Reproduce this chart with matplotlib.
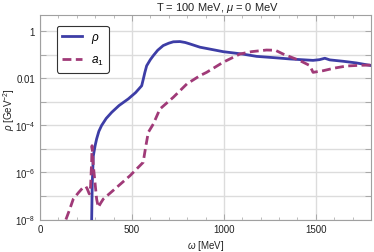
import numpy as np
import matplotlib
matplotlib.use("Agg")
import matplotlib.pyplot as plt
from matplotlib.ticker import FixedLocator, FuncFormatter

plt.rcParams['font.family'] = ['Liberation Sans', 'DejaVu Sans']
plt.rcParams['mathtext.fontset'] = 'custom'
plt.rcParams['mathtext.it'] = 'Liberation Sans:italic'
plt.rcParams['mathtext.rm'] = 'Liberation Sans'

# rho spectral function (omega in MeV, log10 rho)
rho_w = [281, 284, 290, 300, 308, 320, 335, 360, 390, 430, 480, 520, 553, 562, 570, 580,
         600, 616, 640, 670, 700, 725, 761, 790, 815, 870, 950, 996, 1100, 1178, 1280,
         1359, 1420, 1485, 1520, 1549, 1576, 1650, 1721, 1800]
rho_log = [-8.0, -6.5, -5.29, -4.85, -4.57, -4.25, -4.0, -3.7, -3.44, -3.15, -2.87, -2.6,
           -2.31, -2.02, -1.75, -1.46, -1.2, -1.03, -0.8, -0.6, -0.5, -0.44, -0.43, -0.47,
           -0.53, -0.67, -0.79, -0.86, -0.96, -1.06, -1.12, -1.17, -1.2, -1.23, -1.2, -1.14,
           -1.21, -1.27, -1.34, -1.45]

# a1 spectral function
a1_w = [141, 160, 181, 210, 235, 250, 257, 268, 275, 281, 283, 290, 300, 308, 317, 330,
        344, 400, 489, 561, 575, 589, 616, 652, 725, 799, 870, 906, 996, 1087, 1150,
        1232, 1280, 1322, 1413, 1467, 1485, 1540, 1600, 1667, 1740, 1800]
a1_log = [-8.0, -7.6, -7.13, -6.85, -6.63, -6.6, -6.7, -6.91, -6.6, -5.5, -4.86, -5.71,
          -6.5, -7.13, -7.48, -7.3, -7.13, -6.75, -6.14, -5.57, -4.9, -4.29, -3.94, -3.3,
          -2.8, -2.23, -1.88, -1.74, -1.31, -0.96, -0.86, -0.79, -0.8, -0.96, -1.24, -1.45,
          -1.74, -1.67, -1.56, -1.47, -1.44, -1.43]

xticks = [0, 500, 1000, 1500]
ydecades = list(range(-8, 1))

blue = '#3d3da6'
purple = '#a03a78'
gridc = '#dcdcdc'
framec = '#a0a0a0'

fig = plt.figure(figsize=(3.74, 2.53), dpi=100)
ax = fig.add_axes([40/374, 1 - 220.5/253, (371-40)/374, (220.5-16)/253])

ax.plot(rho_w, 10**np.array(rho_log), color=blue, lw=2.0, label=r'$\rho$', zorder=3)
ax.plot(a1_w, 10**np.array(a1_log), color=purple, lw=2.0, ls=(0, (3.2, 1.6)),
        label=r'$a_1$', zorder=3)

ax.set_yscale('log')
ax.set_xlim(0, 1800)
ax.set_ylim(1e-8, 10**0.7)

ax.xaxis.set_major_locator(FixedLocator(xticks))
ax.xaxis.set_minor_locator(FixedLocator([v for v in range(100, 1800, 100) if v % 500]))
ax.yaxis.set_major_locator(FixedLocator([10.0**d for d in ydecades]))
ax.yaxis.set_minor_locator(FixedLocator([]))

def yfmt(v, pos):
    d = int(round(np.log10(v)))
    if d % 2:
        return ''
    if d == 0:
        return '1'
    if d == -2:
        return '0.01'
    return r'$10^{%d}$' % d
ax.yaxis.set_major_formatter(FuncFormatter(yfmt))

ax.grid(True, which='major', color=gridc, lw=1.0, zorder=0)
ax.set_axisbelow(True)

for s in ax.spines.values():
    s.set_color(framec)
    s.set_linewidth(0.8)

ax.tick_params(which='both', direction='in', top=True, right=True, colors=framec,
               labelcolor='#222222', labelsize=7)
ax.tick_params(which='major', length=4, width=0.6)
ax.tick_params(which='minor', length=2, width=0.5)
ax.tick_params(axis='x', pad=3)

ax.set_xlabel(r'$\omega$ [MeV]', fontsize=7, color='#222222', labelpad=3)
ax.set_ylabel(r'$\rho$ [GeV$^{-2}$]', fontsize=7, color='#222222', va='center')
ax.yaxis.set_label_coords((9 - 40) / 331, (220.5 - 110) / 204.5)

fig.text(218/374, 1 - 8/253, r'T = 100 MeV, $\mu$ = 0 MeV', ha='center', va='center',
         fontsize=8, color='#222222')

leg = ax.legend(loc='upper left', bbox_to_anchor=((57-40)/331, (220.5-27)/204.5),
                fontsize=8.5, frameon=True, fancybox=True, handlelength=1.7,
                borderpad=0.45, labelspacing=0.75, handletextpad=0.7, borderaxespad=0)
leg.get_frame().set_edgecolor('#333333')
leg.get_frame().set_linewidth(0.8)
leg.get_frame().set_facecolor('white')
leg.get_frame().set_alpha(1)

fig.savefig('out.png', dpi=100)
